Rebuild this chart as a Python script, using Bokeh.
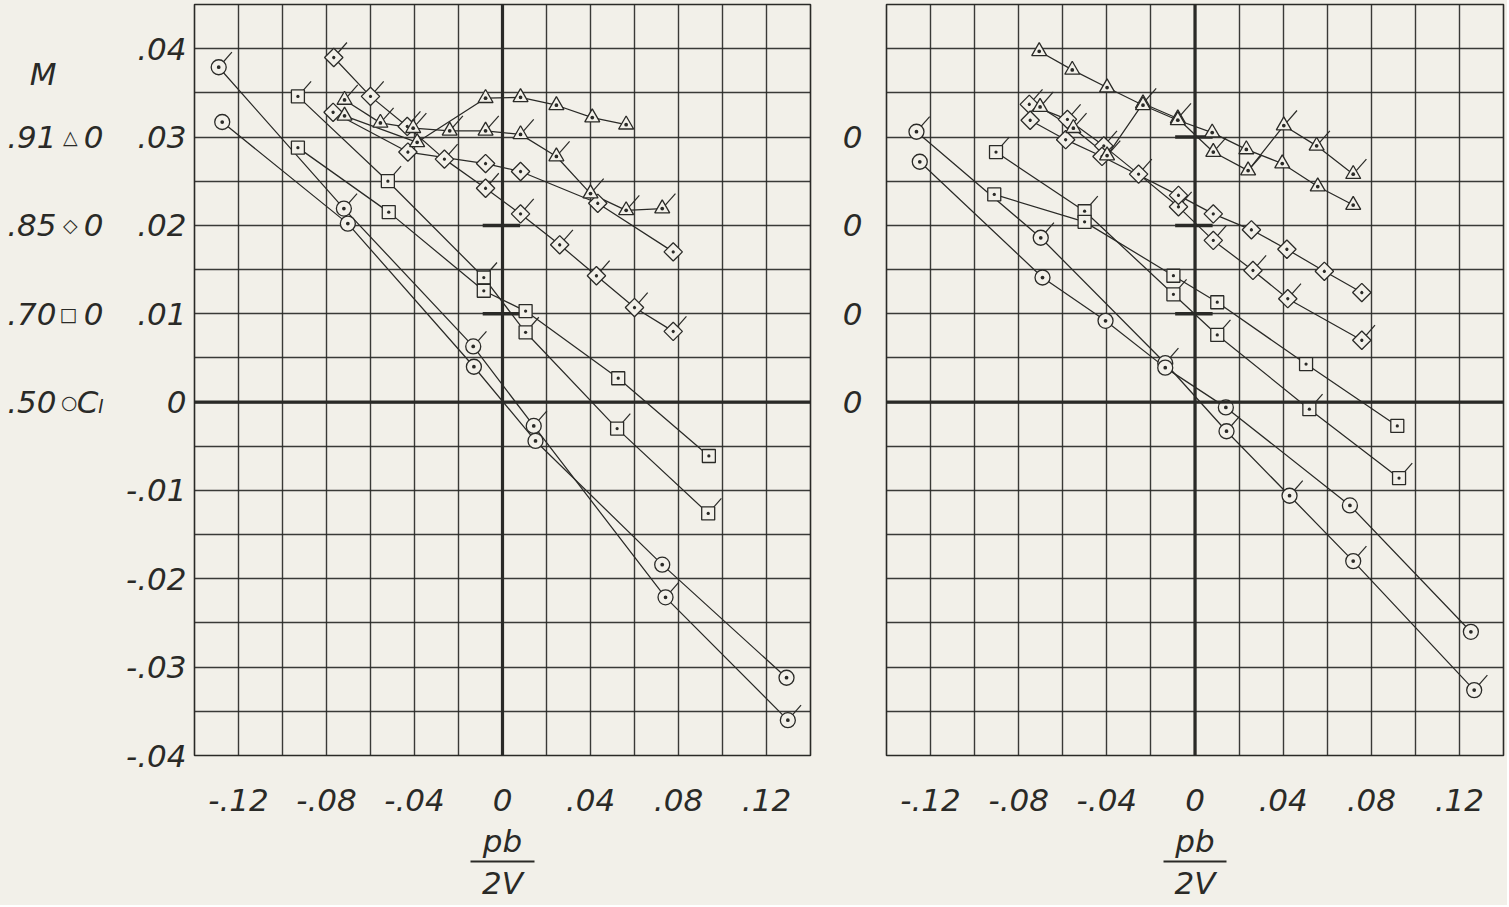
import numpy as np
from bokeh.plotting import figure
from bokeh.layouts import row
from bokeh.models import FixedTicker, Span, LinearAxis
from bokeh.embed import file_html
from bokeh.resources import INLINE

# ---------------- axis ticks / labels ----------------
x_ticks = [-0.12, -0.08, -0.04, 0.0, 0.04, 0.08, 0.12]
x_tick_labels = ["-.12", "-.08", "-.04", "0", ".04", ".08", ".12"]
y_ticks = [-0.04, -0.03, -0.02, -0.01, 0.0, 0.01, 0.02, 0.03, 0.04]
y_tick_labels = ["-.04", "-.03", "-.02", "-.01", "0", ".01", ".02", ".03", ".04"]
right_y_ticks = [0.0, 0.01, 0.02, 0.03]
right_y_labels = ["0", "0", "0", "0"]
x_title_top = "pb"
x_title_bottom = "2V"

mach_numbers = [".91", ".85", ".70", ".50"]
mach_zero_levels = [0.03, 0.02, 0.01, 0.0]
mach_symbols = ["△", "◇", "□", "○"]
mach_zero_text = ["0", "0", "0", "Cₗ"]
mach_header = "M"

# ---------------- left panel data (pb/2V, Cl) ----------------
# M = .50 (circles)
L50_flag_x = [-0.129, -0.0721, -0.0133, 0.0142, 0.0741, 0.1297]
L50_flag_y = [0.0379, 0.0219, 0.0063, -0.0027, -0.0221, -0.0360]
L50_x = [-0.1274, -0.0703, -0.0130, 0.0150, 0.0726, 0.1291]
L50_y = [0.0317, 0.0202, 0.0040, -0.0044, -0.0184, -0.0312]
# M = .70 (squares)
L70_flag_x = [-0.093, -0.0521, -0.0085, 0.0105, 0.0521, 0.0935]
L70_flag_y = [0.0346, 0.0250, 0.0141, 0.0079, -0.0030, -0.0126]
L70_x = [-0.093, -0.0517, -0.0085, 0.0105, 0.0526, 0.0938]
L70_y = [0.0288, 0.0215, 0.0126, 0.0103, 0.0027, -0.0061]
# M = .85 (diamonds)
L85_flag_x = [-0.0767, -0.060, -0.0433, -0.0264, -0.0077, 0.0082, 0.026, 0.0427, 0.060, 0.0776]
L85_flag_y = [0.0390, 0.0346, 0.0312, 0.0275, 0.0242, 0.0213, 0.0178, 0.0143, 0.0107, 0.0080]
L85_x = [-0.077, -0.043, -0.0077, 0.0082, 0.0433, 0.0776]
L85_y = [0.0328, 0.0283, 0.0270, 0.0261, 0.0225, 0.0170]
# M = .91 (triangles)
L91_flag_x = [-0.0718, -0.0555, -0.0406, -0.024, -0.0077, 0.0082, 0.0245, 0.040, 0.0562, 0.0726]
L91_flag_y = [0.0342, 0.0316, 0.0310, 0.0307, 0.0307, 0.0303, 0.0278, 0.0236, 0.0217, 0.0219]
L91_x = [-0.0718, -0.0388, -0.0077, 0.0082, 0.0245, 0.0408, 0.0562]
L91_y = [0.0324, 0.0294, 0.0344, 0.0345, 0.0336, 0.0322, 0.0314]

# ---------------- right panel data ----------------
R50_flag_x = [-0.1264, -0.070, -0.0135, 0.0143, 0.0429, 0.0718, 0.1267]
R50_flag_y = [0.0306, 0.0186, 0.0044, -0.0033, -0.0106, -0.0180, -0.0326]
R50_x = [-0.1249, -0.0692, -0.0406, -0.0135, 0.014, 0.0703, 0.1252]
R50_y = [0.0272, 0.0141, 0.0092, 0.0039, -0.0006, -0.0117, -0.0260]
R70_flag_x = [-0.0903, -0.0501, -0.0098, 0.0101, 0.0519, 0.0926]
R70_flag_y = [0.0283, 0.0216, 0.0122, 0.0076, -0.0008, -0.0086]
R70_x = [-0.0911, -0.0501, -0.0098, 0.0101, 0.0504, 0.0918]
R70_y = [0.0235, 0.0204, 0.0143, 0.0113, 0.0043, -0.0027]
R85_flag_x = [-0.0752, -0.0579, -0.0414, -0.0256, -0.0075, 0.0083, 0.0263, 0.0421, 0.0757]
R85_flag_y = [0.0337, 0.0320, 0.0290, 0.0258, 0.0221, 0.0183, 0.0149, 0.0117, 0.0070]
R85_x = [-0.0748, -0.0587, -0.0422, -0.0075, 0.0083, 0.0256, 0.0417, 0.0587, 0.0757]
R85_y = [0.0319, 0.0297, 0.0278, 0.0234, 0.0213, 0.0195, 0.0173, 0.0148, 0.0124]
R91_flag_x = [-0.0703, -0.0552, -0.0399, -0.0236, -0.0078, 0.0083, 0.0241, 0.0403, 0.0552, 0.0718]
R91_flag_y = [0.0334, 0.0310, 0.0279, 0.0338, 0.0321, 0.0283, 0.0262, 0.0313, 0.0290, 0.0258]
R91_x = [-0.0707, -0.0557, -0.0399, -0.0236, -0.0078, 0.0078, 0.0233, 0.0396, 0.0557, 0.0718]
R91_y = [0.0397, 0.0376, 0.0356, 0.0336, 0.0319, 0.0305, 0.0286, 0.0270, 0.0244, 0.0223]

left_series = [
    (L50_flag_x, L50_flag_y, "cir", True), (L50_x, L50_y, "cir", False),
    (L70_flag_x, L70_flag_y, "sq", True), (L70_x, L70_y, "sq", False),
    (L85_flag_x, L85_flag_y, "dia", True), (L85_x, L85_y, "dia", False),
    (L91_flag_x, L91_flag_y, "tri", True), (L91_x, L91_y, "tri", False),
]
right_series = [
    (R50_flag_x, R50_flag_y, "cir", True), (R50_x, R50_y, "cir", False),
    (R70_flag_x, R70_flag_y, "sq", True), (R70_x, R70_y, "sq", False),
    (R85_flag_x, R85_flag_y, "dia", True), (R85_x, R85_y, "dia", False),
    (R91_flag_x, R91_flag_y, "tri", True), (R91_x, R91_y, "tri", False),
]

# ---------------- style ----------------
BG = "#f2f0e9"
INK = "#2a2a27"
FONT = "DejaVu Sans"
FS = "31px"
MARKERS = {
    "tri": dict(marker="triangle_dot", size=15),
    "dia": dict(marker="square_dot", size=13, angle=np.pi / 4),
    "sq": dict(marker="square_dot", size=13),
    "cir": dict(marker="circle_dot", size=15),
}
H = 905
MB_TOP, MB_BOTTOM = 4, 150


def text_axis(p, side, ticks, labels, standoff, font_size=FS, style="italic", font=FONT,
              bounds=None):
    ax = LinearAxis(ticker=FixedTicker(ticks=ticks),
                    major_label_overrides={t: s for t, s in zip(ticks, labels)},
                    major_label_standoff=standoff, major_tick_in=0, major_tick_out=0,
                    axis_line_color=None, major_tick_line_color=None,
                    minor_tick_line_color=None,
                    major_label_text_font=font, major_label_text_font_size=font_size,
                    major_label_text_font_style=style, major_label_text_color=INK)
    if bounds is not None:
        ax.bounds = bounds
        ax.axis_line_color = INK
        ax.axis_line_width = 2
    p.add_layout(ax, side)
    return ax


def make_panel(width, mbl, mbr, series, mark_levels, ylabels_ticks, ylabels_text, ystandoff):
    p = figure(width=width, height=H, x_range=(-0.14, 0.14), y_range=(-0.04, 0.045),
               output_backend="svg", toolbar_location=None,
               min_border_left=mbl, min_border_right=mbr,
               min_border_top=MB_TOP, min_border_bottom=MB_BOTTOM,
               background_fill_color=BG, border_fill_color=BG,
               outline_line_color=INK, outline_line_width=1.6)
    p.xgrid.ticker = FixedTicker(ticks=[round(-0.14 + 0.02 * i, 2) for i in range(15)])
    p.ygrid.ticker = FixedTicker(ticks=[round(-0.04 + 0.005 * i, 3) for i in range(18)])
    for g in (p.xgrid, p.ygrid):
        g.grid_line_color = INK
        g.grid_line_width = 1.4
        g.grid_line_alpha = 0.92

    xa = p.xaxis[0]
    ya = p.yaxis[0]
    xa.ticker = FixedTicker(ticks=x_ticks)
    xa.major_label_overrides = {t: s for t, s in zip(x_ticks, x_tick_labels)}
    xa.major_label_standoff = 27
    ya.ticker = FixedTicker(ticks=ylabels_ticks)
    ya.major_label_overrides = {t: s for t, s in zip(ylabels_ticks, ylabels_text)}
    ya.major_label_standoff = ystandoff
    for ax in (xa, ya):
        ax.axis_line_color = None
        ax.major_tick_line_color = None
        ax.minor_tick_line_color = None
        ax.major_label_text_font = FONT
        ax.major_label_text_font_size = FS
        ax.major_label_text_font_style = "italic"
        ax.major_label_text_color = INK

    # stacked axes below that carry the fraction pb / 2V
    text_axis(p, "below", [0.0], [x_title_top], 9)
    text_axis(p, "below", [0.0], [x_title_bottom], 3, bounds=(-0.0145, 0.0145))

    p.add_layout(Span(location=0, dimension="height", line_color=INK, line_width=3.2))
    p.add_layout(Span(location=0, dimension="width", line_color=INK, line_width=3.2))
    # short heavy marks on the vertical axis at the shifted zeros
    p.segment(x0=[-0.009] * len(mark_levels), y0=mark_levels,
              x1=[0.008] * len(mark_levels), y1=mark_levels,
              line_color=INK, line_width=3.5)

    for xs, ys, kind, flagged in series:
        p.line(xs, ys, line_color=INK, line_width=1.25)
    for xs, ys, kind, flagged in series:
        if flagged:
            p.ray(x=xs, y=ys, length=20, length_units="screen", angle=0.85,
                  line_color=INK, line_width=1.2)
    for xs, ys, kind, flagged in series:
        p.scatter(xs, ys, fill_color=BG, line_color=INK, line_width=1.3, **MARKERS[kind])
    return p


# left panel: frame 194..810 page px
left = make_panel(820, 194, 10, left_series, [0.01, 0.02], y_ticks, y_tick_labels, 2)
# right panel: frame 886..1503 page px
right = make_panel(687, 66, 4, right_series, [0.01, 0.02, 0.03], right_y_ticks, right_y_labels, 18)

# legend columns on the left of the left panel (stacked outward)
text_axis(left, "left", mach_zero_levels, mach_zero_text, 20)
text_axis(left, "left", mach_zero_levels, mach_symbols, -4, font_size="19px", style="normal")
text_axis(left, "left", [0.0371] + mach_zero_levels, [mach_header] + mach_numbers, 0)

layout = row(left, right)
layout.styles = {"background-color": BG}
open("out.html", "w").write(file_html(layout, INLINE))
